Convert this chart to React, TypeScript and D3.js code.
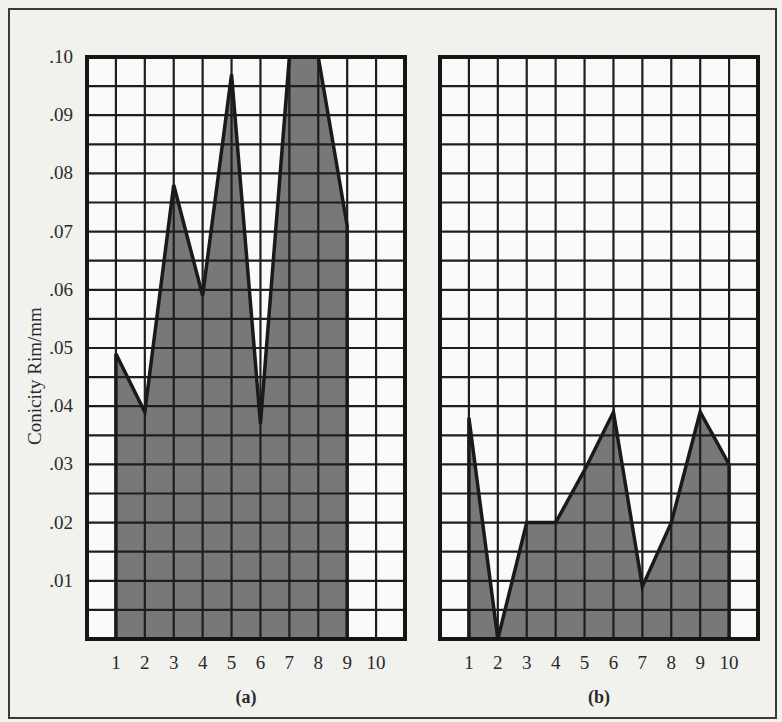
import React, { useEffect, useRef } from 'react';
import * as d3 from 'd3';

const positions = [1, 2, 3, 4, 5, 6, 7, 8, 9, 10];
const seriesA = [0.049, 0.039, 0.078, 0.059, 0.097, 0.037, 0.1, 0.1, 0.071];
const seriesB = [0.038, 0.0, 0.02, 0.02, 0.029, 0.039, 0.009, 0.02, 0.039, 0.03];
const yTicks = [0.01, 0.02, 0.03, 0.04, 0.05, 0.06, 0.07, 0.08, 0.09, 0.1];
const panelLabels = ['(a)', '(b)'];
const yTitle = 'Conicity Rim/mm';

const App = () => {
    const ref = useRef<SVGSVGElement>(null);

    useEffect(() => {
        const width = 782;
        const height = 722;
        const top = 57;
        const bottom = 639;
        const font = 'Times New Roman, Liberation Serif, serif';

        const svg = d3.select(ref.current)
            .attr('width', width)
            .attr('height', height);
        svg.selectAll('*').remove();

        svg.append('rect')
            .attr('x', 0).attr('y', 0)
            .attr('width', width).attr('height', height)
            .attr('fill', '#f1f1ed');

        // outer frame
        svg.append('rect')
            .attr('x', 9).attr('y', 9)
            .attr('width', 767).attr('height', 709)
            .attr('fill', 'none')
            .attr('stroke', '#3a3a3a')
            .attr('stroke-width', 2);

        const yScale = d3.scaleLinear().domain([0, 0.1]).range([bottom, top]);

        const panels = [
            { left: 87, right: 405, values: seriesA, label: panelLabels[0] },
            { left: 440, right: 758, values: seriesB, label: panelLabels[1] },
        ];

        panels.forEach((p, pi) => {
            const xScale = d3.scaleLinear().domain([0, 11]).range([p.left, p.right]);
            const g = svg.append('g');

            g.append('rect')
                .attr('x', p.left).attr('y', top)
                .attr('width', p.right - p.left).attr('height', bottom - top)
                .attr('fill', '#fafaf8');

            const pts = p.values.map((v, i) => ({ x: positions[i], y: v }));
            const area = d3.area<{ x: number; y: number }>()
                .x(d => xScale(d.x))
                .y0(yScale(0))
                .y1(d => yScale(d.y));

            g.append('path')
                .attr('d', area(pts))
                .attr('fill', '#787876');

            // grid
            const gridX = d3.range(1, 11);
            const gridY = d3.range(1, 20).map(i => i * 0.005);
            g.selectAll('.gx').data(gridX).enter().append('line')
                .attr('x1', d => xScale(d)).attr('x2', d => xScale(d))
                .attr('y1', top).attr('y2', bottom)
                .attr('stroke', '#1e1e1e').attr('stroke-width', 2.2);
            g.selectAll('.gy').data(gridY).enter().append('line')
                .attr('x1', p.left).attr('x2', p.right)
                .attr('y1', d => yScale(d)).attr('y2', d => yScale(d))
                .attr('stroke', '#1e1e1e').attr('stroke-width', 2.2);

            // outline of the filled profile
            const outline = [
                [xScale(pts[0].x), yScale(0)] as [number, number],
                ...pts.map(d => [xScale(d.x), yScale(d.y)] as [number, number]),
                [xScale(pts[pts.length - 1].x), yScale(0)] as [number, number],
            ];
            g.append('path')
                .attr('d', d3.line()(outline))
                .attr('fill', 'none')
                .attr('stroke', '#1a1a1a')
                .attr('stroke-width', 3.5)
                .attr('stroke-linejoin', 'miter');

            g.append('rect')
                .attr('x', p.left).attr('y', top)
                .attr('width', p.right - p.left).attr('height', bottom - top)
                .attr('fill', 'none')
                .attr('stroke', '#151515').attr('stroke-width', 4);

            // x tick labels
            g.selectAll('.xt').data(positions).enter().append('text')
                .attr('x', d => xScale(d))
                .attr('y', 669)
                .attr('text-anchor', 'middle')
                .attr('font-family', font)
                .attr('font-size', 19)
                .attr('fill', '#2a2a2a')
                .text(d => d);

            g.append('text')
                .attr('x', xScale(5.5))
                .attr('y', 703)
                .attr('text-anchor', 'middle')
                .attr('font-family', font)
                .attr('font-size', 18)
                .attr('font-weight', 'bold')
                .attr('fill', '#2a2a2a')
                .text(p.label);

            if (pi === 0) {
                g.selectAll('.yt').data(yTicks).enter().append('text')
                    .attr('x', 73)
                    .attr('y', d => yScale(d) + 6)
                    .attr('text-anchor', 'end')
                    .attr('font-family', font)
                    .attr('font-size', 19)
                    .attr('fill', '#2a2a2a')
                    .text(d => d3.format('.2f')(d).replace(/^0/, ''));

                g.append('text')
                    .attr('transform', `translate(41,${376}) rotate(-90)`)
                    .attr('text-anchor', 'middle')
                    .attr('font-family', font)
                    .attr('font-size', 19)
                    .attr('fill', '#2a2a2a')
                    .text(yTitle);
            }
        });
    }, []);

    return <svg ref={ref} style={{ position: 'absolute', left: 0, top: 0 }}></svg>;
};

export default App;
